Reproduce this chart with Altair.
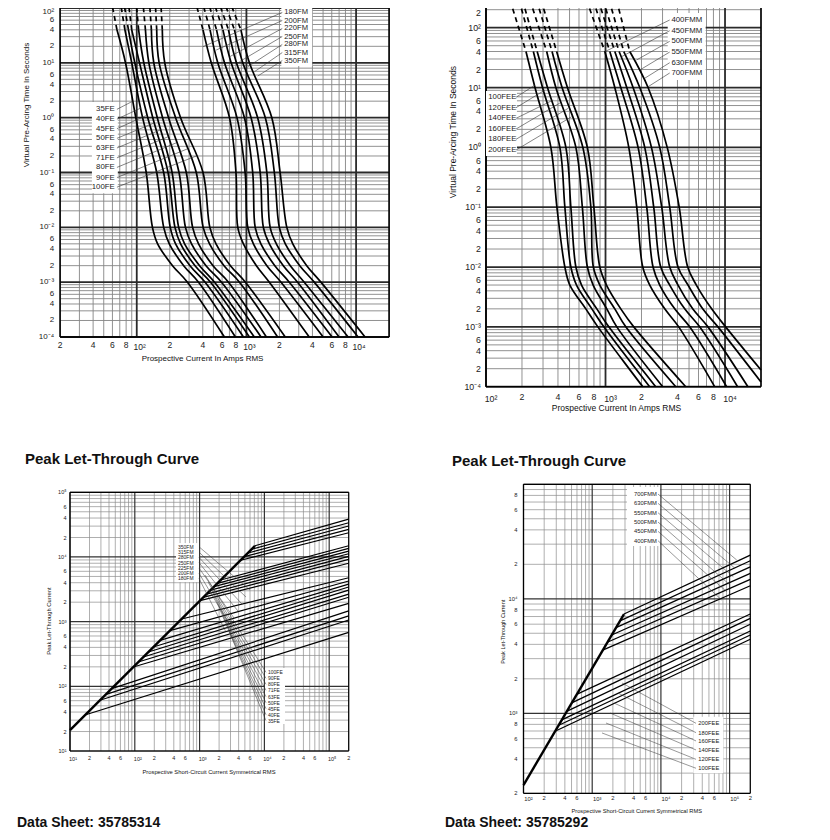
import math
import altair as alt
import pandas as pd

FONT = "Liberation Sans"

# ===================== TOP-LEFT : FE / FM pre-arcing time =====================
TL_TIME = [150, 40, 10, 1, 0.1, 0.01, 0.005, 0.002, 0.001, 0.0001]   # seconds
FE_35 = [58, 66, 79, 98, 122, 139, 155, 212, 290, 630]                 # amps at TL_TIME
FE_40 = [70, 78, 90, 113, 152, 176, 198, 268, 366, 794]
FE_45 = [75, 84, 96, 126, 176, 202, 226, 306, 420, 940]
FE_50 = [83, 90, 106, 140, 193, 223, 251, 340, 471, 1065]
FE_63 = [98, 104, 116, 154, 210, 241, 273, 374, 512, 1180]
FE_71 = [113, 120, 129, 172, 243, 278, 316, 428, 593, 1360]
FE_80 = [130, 136, 143, 195, 283, 323, 366, 496, 686, 1520]
FE_90 = [147, 152, 160, 226, 349, 403, 461, 625, 864, 1925]
FE_100 = [165, 171, 180, 251, 402, 464, 528, 715, 979, 2260]
FM_180 = [337, 402, 478, 701, 803, 834, 939, 1233, 1619, 3740]
FM_200 = [388, 466, 548, 820, 973, 1028, 1158, 1536, 2068, 5010]
FM_220 = [438, 534, 631, 959, 1141, 1202, 1355, 1816, 2460, 6050]
FM_250 = [491, 611, 726, 1103, 1335, 1427, 1619, 2170, 2927, 7000]
FM_280 = [545, 686, 811, 1266, 1536, 1646, 1874, 2512, 3368, 8460]
FM_315 = [611, 778, 926, 1488, 1797, 1995, 2262, 3065, 4152, 10430]
FM_350 = [686, 891, 1065, 1705, 2029, 2335, 2647, 3548, 4777, 12070]
TL_FE_NAMES = ["35FE", "40FE", "45FE", "50FE", "63FE", "71FE", "80FE", "90FE", "100FE"]
TL_FM_NAMES = ["180FM", "200FM", "220FM", "250FM", "280FM", "315FM", "350FM"]
TL_FE_LABEL_T = [1.42, 0.94, 0.63, 0.42, 0.28, 0.185, 0.124, 0.081, 0.054]
TL_FE_LEAD_I = [92, 109, 123, 144, 165, 194, 231, 290, 349]
TL_FE_LEAD_T = [2, 1.5, 1.1, 0.8, 0.6, 0.45, 0.35, 0.27, 0.2]
TL_FM_LABEL_T = [82.8, 59.1, 42.3, 30.2, 21.6, 15.4, 11.0]
TL_FM_LEAD_I = [401, 530, 701, 864, 1028, 1182, 1267]
TL_FM_LEAD_T = [19.7, 17.1, 12.9, 10.5, 8.49, 6.88, 5.74]

# ===================== TOP-RIGHT : FEE / FMM pre-arcing time ==================
TR_TIME = [290, 40, 10, 1, 0.1, 0.01, 0.005, 0.002, 0.001, 0.0001]
FEE_100 = [159, 216, 257, 349, 392, 457, 503, 684, 863, 2050]
FEE_120 = [189, 249, 297, 415, 457, 513, 572, 769, 968, 2340]
FEE_140 = [202, 268, 327, 466, 513, 565, 630, 846, 1066, 2630]
FEE_160 = [233, 322, 384, 565, 640, 705, 788, 1025, 1243, 3010]
FEE_180 = [265, 357, 433, 646, 754, 791, 896, 1196, 1478, 3870]
FEE_200 = [289, 390, 480, 705, 799, 896, 1019, 1342, 1724, 4690]
FMM_400 = [694, 987, 1196, 1566, 1826, 2049, 2345, 3130, 4097, 8190]
FMM_450 = [788, 1086, 1342, 1873, 2213, 2498, 2842, 3793, 5062, 10310]
FMM_500 = [868, 1196, 1506, 2130, 2532, 2897, 3445, 4598, 6136, 12740]
FMM_550 = [955, 1299, 1701, 2423, 2954, 3445, 4042, 5363, 7195, 15540]
FMM_630 = [1072, 1422, 1935, 2842, 3445, 4042, 4899, 6502, 8724, 20000]
FMM_700 = [1236, 1596, 2270, 3283, 4136, 4871, 5757, 7728, 10120, 20000]
TR_FMM_END_T = [0.0001, 0.0001, 0.0001, 0.0001, 0.00012, 0.00019]
TR_FEE_NAMES = ["100FEE", "120FEE", "140FEE", "160FEE", "180FEE", "200FEE"]
TR_FMM_NAMES = ["400FMM", "450FMM", "500FMM", "550FMM", "630FMM", "700FMM"]
TR_FEE_LABEL_T = [6.86, 4.59, 3.05, 2.02, 1.36, 0.90]
TR_FEE_LEAD_I = [257, 311, 365, 415, 487, 520]
TR_FEE_LEAD_T = [11.0, 9.08, 6.18, 5.51, 4.49, 3.25]
TR_FMM_LABEL_T = [134.5, 89.1, 59.2, 39.2, 26.0, 17.5]
TR_FMM_LEAD_I = [986, 1361, 1816, 1935, 2130, 2270]
TR_FMM_LEAD_T = [39.7, 32.7, 28.8, 19.6, 14.3, 10.3]

# ===================== BOTTOM-LEFT : peak let-through FE / FM =================
BL_DIAG_I = [10, 7160]
BL_DIAG_IP = [21, 14890]
BL_KNEE_I = [17, 29, 36, 44, 95, 113, 135, 162, 193, 245, 349, 529,
             1014, 1141, 1285, 1482, 1668, 1877, 2116, 4305, 4898, 5585, 6368, 7160]
BL_KNEE_IP = [36, 61, 75, 92, 199, 238, 284, 339, 405, 514, 728, 1100,
              2110, 2370, 2670, 3080, 3470, 3910, 4400, 8900, 10140, 11530, 13150, 14890]
BL_END_IP = [684, 1060, 1230, 1470, 1920, 2380, 2670, 3080, 3430, 3810, 4250, 4770,
             8000, 9200, 10200, 11200, 12300, 13600, 14900, 23700, 26700, 30100, 33800, 38500]
BL_FM_NAMES = ["350FM", "315FM", "280FM", "250FM", "225FM", "200FM", "180FM"]
BL_FM_LABEL_IP = [14380, 11900, 9860, 8163, 6761, 5598, 4669]
BL_FM_LEAD_I = [5995, 5200, 4512, 3913, 3395, 2945, 2555]
BL_FM_LEAD_IP = [3079, 2400, 1871, 1458, 1137, 886, 691]
BL_FE_NAMES = ["100FE", "90FE", "80FE", "71FE", "63FE", "50FE", "45FE", "40FE", "35FE"]
BL_FE_LABEL_IP = [164.6, 132.9, 107.4, 86.8, 69.1, 55.8, 45.1, 36.4, 29.4]
BL_FE_LEAD_I = [1211, 1348, 1499, 1668, 1856, 2064, 2297, 2555, 2842]
BL_FE_LEAD_IP = [5251, 4093, 3191, 2487, 1939, 1511, 1178, 918, 715]

# ===================== BOTTOM-RIGHT : peak let-through FEE / FMM ==============
BR_DIAG_I = [100, 2904]
BR_DIAG_IP = [236, 7360]
BR_KNEE_I = [288, 321, 360, 425, 503, 594, 1422, 1660, 1923, 2220, 2540, 2904]
BR_KNEE_IP = [697, 782, 875, 1040, 1233, 1465, 3556, 4170, 4830, 5600, 6420, 7360]
BR_END_IP = [4430, 4830, 5230, 5990, 6750, 7360, 13000, 14800, 16700, 19000, 21500, 24100]
BR_FMM_NAMES = ["700FMM", "630FMM", "550FMM", "500FMM", "450FMM", "400FMM"]
BR_FMM_LABEL_IP = [82220, 68200, 56460, 46820, 38840, 32150]
BR_FMM_LEAD_I = [126900, 119900, 113200, 101300, 90750, 76740]
BR_FMM_LEAD_IP = [21810, 18450, 15580, 13190, 11530, 9754]
BR_FEE_NAMES = ["200FEE", "180FEE", "160FEE", "140FEE", "120FEE", "100FEE"]
BR_FEE_LABEL_IP = [817, 677, 573, 478, 396, 331]
BR_FEE_LEAD_I = [2716, 2374, 2076, 1816, 1588, 1389]
BR_FEE_LEAD_IP = [1838, 1503, 1229, 1006, 822, 673]

SUPER = str.maketrans("-0123456789", "⁻⁰¹²³⁴⁵⁶⁷⁸⁹")


def log_values(lo, hi, ks):
    out = []
    for n in range(math.floor(math.log10(lo)) - 1, math.ceil(math.log10(hi)) + 1):
        for k in ks:
            v = float(f"{k}e{n}")
            if lo * 0.9999 <= v <= hi * 1.0001:
                out.append(v)
    return out


def is_decade(v):
    n = round(math.log10(v))
    return abs(v - 10.0 ** n) < 1e-6 * v


def tick_text(v):
    if is_decade(v):
        return "10" + str(round(math.log10(v))).translate(SUPER)
    return str(int(round(v / 10.0 ** math.floor(math.log10(v) + 1e-9))))


class Panel:
    def __init__(self, xdom, xrng, ydom, yrng):
        self.sx = alt.Scale(type="log", domain=xdom, range=xrng, nice=False)
        self.sy = alt.Scale(type="log", domain=ydom, range=yrng, nice=False)
        self.layers = []

    def enc(self, **extra):
        d = dict(x=alt.X("x:Q", scale=self.sx, axis=None),
                 y=alt.Y("y:Q", scale=self.sy, axis=None))
        d.update(extra)
        return d

    def add(self, ch):
        self.layers.append(ch)

    def grid(self, xlo, xhi, ylo, yhi, ytop, minor, major):
        xs = log_values(xlo, xhi, range(1, 10))
        ys = log_values(ylo, yhi, range(1, 10))
        vdf = pd.DataFrame({"x": xs, "y": ylo, "y2": ytop, "major": [is_decade(v) for v in xs]})
        hdf = pd.DataFrame({"y": ys, "x": xlo, "x2": xhi, "major": [is_decade(v) for v in ys]})
        for flag, (c, w) in ((False, minor), (True, major)):
            self.add(alt.Chart(vdf[vdf.major == flag]).mark_rule(color=c, strokeWidth=w)
                     .encode(**self.enc(y2=alt.Y2("y2"))))
            self.add(alt.Chart(hdf[hdf.major == flag]).mark_rule(color=c, strokeWidth=w)
                     .encode(**self.enc(x2=alt.X2("x2"))))

    def frame(self, xlo, xhi, ylo, ytop, top, width):
        rows = [dict(x=xlo, y=ylo, x2=xlo, y2=ytop), dict(x=xhi, y=ylo, x2=xhi, y2=ytop),
                dict(x=xlo, y=ylo, x2=xhi, y2=ylo)]
        if top:
            rows.append(dict(x=xlo, y=ytop, x2=xhi, y2=ytop))
        self.add(alt.Chart(pd.DataFrame(rows)).mark_rule(color="black", strokeWidth=width)
                 .encode(**self.enc(x2=alt.X2("x2"), y2=alt.Y2("y2"))))

    def ticks(self, xs, ys, xlo, ylo, fs, xdy, ydx, ddx, ddy, top_dy=0, yfs=None):
        xdf = pd.DataFrame({"x": xs, "y": ylo, "text": [tick_text(v) for v in xs],
                            "dec": [is_decade(v) for v in xs]})
        ymax = max(ys)
        ydf = pd.DataFrame({"y": ys, "x": xlo, "text": [tick_text(v) for v in ys],
                            "top": [v == ymax for v in ys]})
        common = dict(font=FONT, fontSize=fs, color="#222", baseline="middle")
        ycommon = dict(common, fontSize=yfs or fs)
        self.add(alt.Chart(xdf[~xdf.dec]).mark_text(dy=xdy, align="center", **common)
                 .encode(**self.enc(text="text:N")))
        self.add(alt.Chart(xdf[xdf.dec]).mark_text(dy=xdy + ddy, dx=ddx, align="center", **common)
                 .encode(**self.enc(text="text:N")))
        self.add(alt.Chart(ydf[~ydf.top]).mark_text(dx=ydx, align="right", **ycommon)
                 .encode(**self.enc(text="text:N")))
        self.add(alt.Chart(ydf[ydf.top]).mark_text(dx=ydx, dy=top_dy, align="right", **ycommon)
                 .encode(**self.enc(text="text:N")))

    def box(self, x, x2, y, y2):
        df = pd.DataFrame([dict(x=x, x2=x2, y=y, y2=y2)])
        self.add(alt.Chart(df).mark_rect(color="white", opacity=1)
                 .encode(**self.enc(x2=alt.X2("x2"), y2=alt.Y2("y2"))))

    def labels(self, names, xpos, ypos, fs, align):
        df = pd.DataFrame({"x": xpos, "y": ypos, "text": names})
        self.add(alt.Chart(df).mark_text(font=FONT, fontSize=fs, align=align, baseline="middle",
                                         color="#222")
                 .encode(**self.enc(text="text:N")))

    def leaders(self, x0, y0, x1, y1, width=0.6):
        df = pd.DataFrame({"x": x0, "y": y0, "x2": x1, "y2": y1})
        self.add(alt.Chart(df).mark_rule(color="#333", strokeWidth=width)
                 .encode(**self.enc(x2=alt.X2("x2"), y2=alt.Y2("y2"))))

    def text(self, x, y, txt, fs, bold=False, angle=0, align="center", dy=0):
        df = pd.DataFrame([dict(x=x, y=y, text=txt)])
        kw = dict(font=FONT, fontSize=fs, align=align, baseline="middle", color="#111",
                  fontWeight="bold" if bold else "normal", dy=dy)
        if angle:
            kw["angle"] = angle
        self.add(alt.Chart(df).mark_text(**kw).encode(**self.enc(text="text:N")))

    def chart(self):
        return alt.layer(*self.layers)


def tc_frames(names, series, times, end_times=None):
    solid, dashed = [], []
    for j, (name, vals) in enumerate(zip(names, series)):
        ts = list(times)
        if end_times is not None:
            ts[-1] = end_times[j]
        for i, (t, a) in enumerate(zip(ts, vals)):
            if i >= 1:
                solid.append(dict(name=name, i=i, x=a, y=t))
            if i <= 1:
                dashed.append(dict(name=name, i=i, x=a, y=t))
    return pd.DataFrame(solid), pd.DataFrame(dashed)


def add_tc_curves(p, solid, dashed, width):
    p.add(alt.Chart(solid).mark_line(color="black", strokeWidth=width, interpolate="catmull-rom")
          .encode(**p.enc(detail="name:N", order="i:Q")))
    p.add(alt.Chart(dashed).mark_line(color="black", strokeWidth=width, strokeDash=[5, 4])
          .encode(**p.enc(detail="name:N", order="i:Q")))


def add_plt_curves(p, diag_i, diag_ip, knee_i, knee_ip, end_i, end_ip, width, dwidth):
    rows = []
    for j, (ki, kp, ep) in enumerate(zip(knee_i, knee_ip, end_ip)):
        rows.append(dict(name=f"c{j}", i=0, x=ki, y=kp))
        rows.append(dict(name=f"c{j}", i=1, x=end_i, y=ep))
    p.add(alt.Chart(pd.DataFrame(rows)).mark_line(color="black", strokeWidth=width)
          .encode(**p.enc(detail="name:N", order="i:Q")))
    ddf = pd.DataFrame({"name": "diag", "i": [0, 1], "x": diag_i, "y": diag_ip})
    p.add(alt.Chart(ddf).mark_line(color="black", strokeWidth=dwidth)
          .encode(**p.enc(detail="name:N", order="i:Q")))


# ------------------------------ TOP-LEFT -------------------------------------
tl = Panel([20, 20000], [52.1, 381.1], [1e-4, 100], [329, 0])
tl.grid(20, 20000, 1e-4, 100, 1000, ("#858585", 0.9), ("#2a2a2a", 1.8))
tl.frame(20, 20000, 1e-4, 1000, False, 1.6)
s, d = tc_frames(TL_FE_NAMES, [FE_35, FE_40, FE_45, FE_50, FE_63, FE_71, FE_80, FE_90, FE_100], TL_TIME)
add_tc_curves(tl, s, d, 1.7)
s, d = tc_frames(TL_FM_NAMES, [FM_180, FM_200, FM_220, FM_250, FM_280, FM_315, FM_350], TL_TIME)
add_tc_curves(tl, s, d, 1.7)
tl.box(39, 67.2, 0.042, 1.93)
tl.box(2080, 3981, 8.75, 1000)
tl.leaders([66] * 9, TL_FE_LABEL_T, TL_FE_LEAD_I, TL_FE_LEAD_T)
tl.leaders([2123] * 7, TL_FM_LABEL_T, TL_FM_LEAD_I, TL_FM_LEAD_T)
tl.labels(TL_FE_NAMES, [63] * 9, TL_FE_LABEL_T, 7.8, "right")
tl.labels(TL_FM_NAMES, [2216] * 7, TL_FM_LABEL_T, 7.6, "left")
tl.ticks(log_values(20, 10000, [1, 2, 4, 6, 8]), log_values(1e-4, 100, [1, 2, 4, 6]),
         20, 1e-4, 8.5, 8, -6, 3, 2, top_dy=4, yfs=8)
tl.text(398, 1e-4, "Prospective Current In Amps RMS", 8, dy=22)
tl.text(10, 1.70, "Virtual Pre-Arcing Time In Seconds", 8, angle=270)

# ------------------------------ TOP-RIGHT ------------------------------------
tr = Panel([100, 20000], [478, 753], [1e-4, 100], [378.7, 19.7])
tr.grid(100, 20000, 1e-4, 200, 1000, ("#858585", 0.9), ("#2a2a2a", 1.8))
tr.frame(100, 20000, 1e-4, 1000, False, 1.6)
s, d = tc_frames(TR_FEE_NAMES, [FEE_100, FEE_120, FEE_140, FEE_160, FEE_180, FEE_200], TR_TIME)
add_tc_curves(tr, s, d, 1.7)
s, d = tc_frames(TR_FMM_NAMES, [FMM_400, FMM_450, FMM_500, FMM_550, FMM_630, FMM_700], TR_TIME,
                 TR_FMM_END_T)
add_tc_curves(tr, s, d, 1.7)
tr.box(100, 181.6, 0.715, 8.74)
tr.box(3315, 6887, 13.3, 176)
tr.leaders([178] * 6, TR_FEE_LABEL_T, TR_FEE_LEAD_I, TR_FEE_LEAD_T)
tr.leaders([3444] * 6, TR_FMM_LABEL_T, TR_FMM_LEAD_I, TR_FMM_LEAD_T)
tr.labels(TR_FEE_NAMES, [104.5] * 6, TR_FEE_LABEL_T, 7.8, "left")
tr.labels(TR_FMM_NAMES, [3559] * 6, TR_FMM_LABEL_T, 7.8, "left")
tr.ticks(log_values(100, 10000, [1, 2, 4, 6, 8]), log_values(1e-4, 200, [1, 2, 4, 6]),
         100, 1e-4, 8.8, 10, -5, 5, 2, top_dy=3.5)
tr.text(1236, 1e-4, "Prospective Current In Amps RMS", 8.5, dy=21)
tr.text(53, 1.80, "Virtual Pre-Arcing Time In Seconds", 8.5, angle=270)

# ------------------------------ BOTTOM-LEFT ----------------------------------
bl = Panel([10, 2e5], [62, 340.7], [10, 1e5], [743, 484.3])
bl.grid(10, 2e5, 10, 1e5, 1e5, ("#8c8c8c", 0.7), ("#333333", 1.2))
bl.frame(10, 2e5, 10, 1e5, True, 1.2)
add_plt_curves(bl, BL_DIAG_I, BL_DIAG_IP, BL_KNEE_I, BL_KNEE_IP, 2e5, BL_END_IP, 1.2, 2.4)
bl.box(432, 979, 4093, 16400)
bl.box(10210, 20800, 26.1, 191.8)
bl.leaders([979] * 7, BL_FM_LABEL_IP, BL_FM_LEAD_I, BL_FM_LEAD_IP, 0.5)
bl.leaders([10590] * 9, BL_FE_LABEL_IP, BL_FE_LEAD_I, BL_FE_LEAD_IP, 0.5)
bl.labels(BL_FM_NAMES, [464] * 7, BL_FM_LABEL_IP, 5, "left")
bl.labels(BL_FE_NAMES, [11370] * 9, BL_FE_LABEL_IP, 5, "left")
bl.ticks(log_values(10, 2e5, [1, 2, 4, 6]), log_values(10, 1e5, [1, 2, 4, 6]),
         10, 10, 5.5, 6.5, -3.5, 3, 1)
bl.text(1396, 10, "Prospective Short-Circuit Current Symmetrical RMS", 5.8, dy=21)
bl.text(4.74, 1021, "Peak Let-Through Current", 5.8, angle=270)
bl.text(2.02, 326000, "Peak Let-Through Curve", 15, bold=True, align="left")
bl.text(1.52, 0.771, "Data Sheet: 35785314", 14, bold=True, align="left")

# ------------------------------ BOTTOM-RIGHT ---------------------------------
br = Panel([100, 2e5], [515.5, 742.3], [200, 1e5], [785.3, 476.3])
br.grid(100, 2e5, 200, 1e5, 1e5, ("#8c8c8c", 0.7), ("#333333", 1.2))
br.frame(100, 2e5, 200, 1e5, True, 1.2)
add_plt_curves(br, BR_DIAG_I, BR_DIAG_IP, BR_KNEE_I, BR_KNEE_IP, 2e5, BR_END_IP, 1.3, 2.4)
br.box(3211, 9703, 28900, 94600)
br.box(29620, 80970, 299, 933)
br.leaders([9075] * 6, BR_FMM_LABEL_IP, BR_FMM_LEAD_I, BR_FMM_LEAD_IP, 0.5)
br.leaders([32430] * 6, BR_FEE_LABEL_IP, BR_FEE_LEAD_I, BR_FEE_LEAD_IP, 0.5)
br.labels(BR_FMM_NAMES, [4058] * 6, BR_FMM_LABEL_IP, 5.8, "left")
br.labels(BR_FEE_NAMES, [35030] * 6, BR_FEE_LABEL_IP, 5.8, "left")
br.ticks(log_values(100, 2e5, [1, 2, 4, 6]), log_values(200, 90000, [1, 2, 4, 6, 8]),
         100, 200, 5.8, 4.5, -6, 5, 1)
br.text(4443, 200, "Prospective Short-Circuit Current Symmetrical RMS", 5.7, dy=18)
br.text(49.8, 5157, "Peak Let-Through Current", 5.5, angle=270)
br.text(9.1, 159700, "Peak Let-Through Curve", 15, bold=True, align="left")
br.text(7.2, 110, "Data Sheet: 35785292", 14, bold=True, align="left")

chart = (
    alt.layer(tl.chart(), tr.chart(), bl.chart(), br.chart())
    .resolve_scale(x="independent", y="independent")
    .properties(width=812, height=822, autosize=alt.AutoSizeParams(type="none"),
                padding=0, background="white")
    .configure_view(stroke=None)
)

chart.save("out.html", embed_options={"renderer": "svg", "actions": False})
